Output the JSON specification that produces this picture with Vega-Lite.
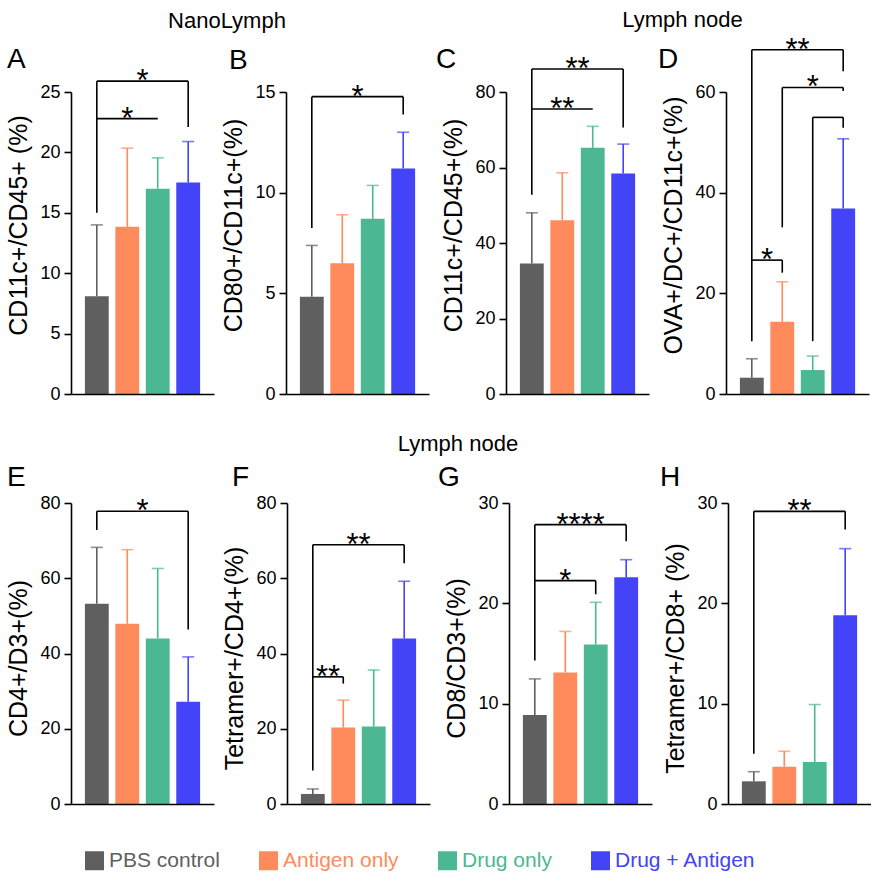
{
"$schema":"https://vega.github.io/schema/vega-lite/v6.json",
"background":"white",
"padding":{"left":6,"top":8,"right":0,"bottom":0},
"datasets":{
"bars":[
{"panel":"A","group":"PBS control","value":8.1,"upper":14.0},
{"panel":"A","group":"Antigen only","value":13.85,"upper":20.35},
{"panel":"A","group":"Drug only","value":17.0,"upper":19.55},
{"panel":"A","group":"Drug + Antigen","value":17.5,"upper":20.9},
{"panel":"B","group":"PBS control","value":4.83,"upper":7.38},
{"panel":"B","group":"Antigen only","value":6.49,"upper":8.9},
{"panel":"B","group":"Drug only","value":8.7,"upper":10.36},
{"panel":"B","group":"Drug + Antigen","value":11.2,"upper":13.0},
{"panel":"C","group":"PBS control","value":34.6,"upper":48.0},
{"panel":"C","group":"Antigen only","value":46.0,"upper":58.6},
{"panel":"C","group":"Drug only","value":65.2,"upper":70.9},
{"panel":"C","group":"Drug + Antigen","value":58.4,"upper":66.2},
{"panel":"D","group":"PBS control","value":3.24,"upper":7.0},
{"panel":"D","group":"Antigen only","value":14.35,"upper":22.3},
{"panel":"D","group":"Drug only","value":4.76,"upper":7.54},
{"panel":"D","group":"Drug + Antigen","value":36.86,"upper":50.7},
{"panel":"E","group":"PBS control","value":53.2,"upper":68.2},
{"panel":"E","group":"Antigen only","value":47.9,"upper":67.6},
{"panel":"E","group":"Drug only","value":44.0,"upper":62.6},
{"panel":"E","group":"Drug + Antigen","value":27.2,"upper":39.1},
{"panel":"F","group":"PBS control","value":2.67,"upper":4.0},
{"panel":"F","group":"Antigen only","value":20.3,"upper":27.6},
{"panel":"F","group":"Drug only","value":20.6,"upper":35.6},
{"panel":"F","group":"Drug + Antigen","value":44.0,"upper":59.2},
{"panel":"G","group":"PBS control","value":8.88,"upper":12.47},
{"panel":"G","group":"Antigen only","value":13.1,"upper":17.2},
{"panel":"G","group":"Drug only","value":15.9,"upper":20.1},
{"panel":"G","group":"Drug + Antigen","value":22.6,"upper":24.35},
{"panel":"H","group":"PBS control","value":2.26,"upper":3.22},
{"panel":"H","group":"Antigen only","value":3.72,"upper":5.25},
{"panel":"H","group":"Drug only","value":4.19,"upper":9.91},
{"panel":"H","group":"Drug + Antigen","value":18.8,"upper":25.45}
],
"links":[
{"panel":"A","group":"PBS control","group2":"PBS control","value":15.0,"value2":25.9},
{"panel":"A","group":"PBS control","group2":"Drug + Antigen","value":25.9,"value2":25.9},
{"panel":"A","group":"Drug + Antigen","group2":"Drug + Antigen","value":25.9,"value2":22.1},
{"panel":"A","group":"PBS control","group2":"Drug only","value":22.8,"value2":22.8},
{"panel":"B","group":"PBS control","group2":"PBS control","value":8.25,"value2":14.77},
{"panel":"B","group":"PBS control","group2":"Drug + Antigen","value":14.77,"value2":14.77},
{"panel":"B","group":"Drug + Antigen","group2":"Drug + Antigen","value":14.77,"value2":13.88},
{"panel":"C","group":"PBS control","group2":"PBS control","value":52.8,"value2":86.1},
{"panel":"C","group":"PBS control","group2":"Drug + Antigen","value":86.1,"value2":86.1},
{"panel":"C","group":"Drug + Antigen","group2":"Drug + Antigen","value":86.1,"value2":70.6},
{"panel":"C","group":"PBS control","group2":"Drug only","value":75.5,"value2":75.5},
{"panel":"D","group":"PBS control","group2":"PBS control","value":10.5,"value2":68.4},
{"panel":"D","group":"PBS control","group2":"Drug + Antigen","value":68.4,"value2":68.4},
{"panel":"D","group":"Drug + Antigen","group2":"Drug + Antigen","value":68.4,"value2":64.1},
{"panel":"D","group":"Antigen only","group2":"Antigen only","value":33.1,"value2":60.9},
{"panel":"D","group":"Antigen only","group2":"Drug + Antigen","value":60.9,"value2":60.9},
{"panel":"D","group":"Drug + Antigen","group2":"Drug + Antigen","value":60.9,"value2":60.2},
{"panel":"D","group":"Drug only","group2":"Drug only","value":10.5,"value2":54.96},
{"panel":"D","group":"Drug only","group2":"Drug + Antigen","value":54.96,"value2":54.96},
{"panel":"D","group":"Drug + Antigen","group2":"Drug + Antigen","value":54.96,"value2":52.9},
{"panel":"D","group":"PBS control","group2":"Antigen only","value":26.6,"value2":26.6},
{"panel":"D","group":"Antigen only","group2":"Antigen only","value":26.6,"value2":24.1},
{"panel":"E","group":"PBS control","group2":"PBS control","value":72.8,"value2":77.8},
{"panel":"E","group":"PBS control","group2":"Drug + Antigen","value":77.8,"value2":77.8},
{"panel":"E","group":"Drug + Antigen","group2":"Drug + Antigen","value":77.8,"value2":46.4},
{"panel":"F","group":"PBS control","group2":"PBS control","value":8.9,"value2":68.9},
{"panel":"F","group":"PBS control","group2":"Drug + Antigen","value":68.9,"value2":68.9},
{"panel":"F","group":"Drug + Antigen","group2":"Drug + Antigen","value":68.9,"value2":64.0},
{"panel":"F","group":"PBS control","group2":"Antigen only","value":33.8,"value2":33.8},
{"panel":"F","group":"Antigen only","group2":"Antigen only","value":33.8,"value2":32.0},
{"panel":"G","group":"PBS control","group2":"PBS control","value":14.3,"value2":27.84},
{"panel":"G","group":"PBS control","group2":"Drug + Antigen","value":27.84,"value2":27.84},
{"panel":"G","group":"Drug + Antigen","group2":"Drug + Antigen","value":27.84,"value2":26.2},
{"panel":"G","group":"PBS control","group2":"Drug only","value":22.26,"value2":22.26},
{"panel":"G","group":"Drug only","group2":"Drug only","value":22.26,"value2":20.9},
{"panel":"H","group":"PBS control","group2":"PBS control","value":5.0,"value2":29.17},
{"panel":"H","group":"PBS control","group2":"Drug + Antigen","value":29.17,"value2":29.17},
{"panel":"H","group":"Drug + Antigen","group2":"Drug + Antigen","value":29.17,"value2":27.35}
],
"stars":[
{"panel":"A","group":"Antigen only","between":true,"value":25.9,"label":"*"},
{"panel":"A","group":"Antigen only","between":false,"value":22.8,"label":"*"},
{"panel":"B","group":"Antigen only","between":true,"value":14.77,"label":"*"},
{"panel":"C","group":"Antigen only","between":true,"value":86.1,"label":"**"},
{"panel":"C","group":"Antigen only","between":false,"value":75.5,"label":"**"},
{"panel":"D","group":"Antigen only","between":true,"value":68.4,"label":"**"},
{"panel":"D","group":"Drug only","between":false,"value":60.9,"label":"*"},
{"panel":"D","group":"PBS control","between":true,"value":26.6,"label":"*"},
{"panel":"E","group":"Antigen only","between":true,"value":77.8,"label":"*"},
{"panel":"F","group":"Antigen only","between":true,"value":68.9,"label":"**"},
{"panel":"F","group":"PBS control","between":true,"value":33.8,"label":"**"},
{"panel":"G","group":"Antigen only","between":true,"value":27.84,"label":"****"},
{"panel":"G","group":"Antigen only","between":false,"value":22.26,"label":"*"},
{"panel":"H","group":"Antigen only","between":true,"value":29.17,"label":"**"}
]
},
"vconcat":[
{"spacing":7,"hconcat":[
 {"title":{"text":"NanoLymph","anchor":"middle","frame":"bounds","fontSize":22,"dx":9,"dy":-9},"spacing":7,"hconcat":[
  {"width":143,"height":302,"title":{"text":"A","dx":-64,"dy":12},
   "encoding":{"x":{"field":"group","type":"nominal","scale":{"domain":["PBS control","Antigen only","Drug only","Drug + Antigen"],"paddingInner":0.217,"paddingOuter":0.456},"axis":{"title":null,"labels":false,"ticks":false,"zindex":1}},
    "y":{"field":"value","type":"quantitative","scale":{"domain":[0,25],"nice":false},"axis":{"title":"CD11c+/CD45+ (%)","values":[0,5,10,15,20,25],"titleY":133}}},
   "layer":[
    {"data":{"name":"bars"},"transform":[{"filter":"datum.panel==='A'"}],"mark":"bar","encoding":{"color":{"field":"group","type":"nominal","scale":{"domain":["PBS control","Antigen only","Drug only","Drug + Antigen"],"range":["#5f5f5f","#ff8b5c","#4cb893","#4343f8"]},"legend":{"title":null,"orient":"none","legendX":13,"legendY":758,"direction":"horizontal","symbolType":"square","symbolSize":361,"symbolStrokeWidth":0,"symbolOpacity":1,"labelFontSize":21,"labelFont":"Liberation Sans","labelOffset":4,"columnPadding":38,"labelLimit":400,"encode":{"labels":{"update":{"fill":{"scale":"color","field":"value"}}}}}}}},
    {"data":{"name":"bars"},"transform":[{"filter":"datum.panel==='A'"}],"mark":{"type":"rule","strokeWidth":1.6},"encoding":{"y2":{"field":"upper"},"color":{"field":"group","type":"nominal","legend":null}}},
    {"data":{"name":"bars"},"transform":[{"filter":"datum.panel==='A'"}],"mark":{"type":"tick","orient":"horizontal","size":12,"thickness":1.6},"encoding":{"y":{"field":"upper","type":"quantitative","scale":{"domain":[0,25],"nice":false}},"color":{"field":"group","type":"nominal","legend":null}}},
    {"data":{"name":"links"},"transform":[{"filter":"datum.panel==='A'"}],"mark":{"type":"rule","strokeWidth":1.6,"color":"black"},"encoding":{"x2":{"field":"group2"},"y2":{"field":"value2"}}},
    {"data":{"name":"stars"},"transform":[{"filter":"datum.panel==='A' && datum.between"}],"mark":{"type":"text","fontSize":31,"baseline":"alphabetic","dy":10,"color":"black"},"encoding":{"x":{"field":"group","type":"nominal","bandPosition":1.1386,"scale":{"domain":["PBS control","Antigen only","Drug only","Drug + Antigen"],"paddingInner":0.217,"paddingOuter":0.456}},"text":{"field":"label"}}},
    {"data":{"name":"stars"},"transform":[{"filter":"datum.panel==='A' && !datum.between"}],"mark":{"type":"text","fontSize":31,"baseline":"alphabetic","dy":10,"color":"black"},"encoding":{"text":{"field":"label"}}}
   ]},
  {"width":143,"height":302,"title":{"text":"B","dx":-57,"dy":-3},
   "encoding":{"x":{"field":"group","type":"nominal","scale":{"domain":["PBS control","Antigen only","Drug only","Drug + Antigen"],"paddingInner":0.217,"paddingOuter":0.456},"axis":{"title":null,"labels":false,"ticks":false,"zindex":1}},
    "y":{"field":"value","type":"quantitative","scale":{"domain":[0,15],"nice":false},"axis":{"title":"CD80+/CD11c+(%)","values":[0,5,10,15],"titleY":133}}},
   "layer":[
    {"data":{"name":"bars"},"transform":[{"filter":"datum.panel==='B'"}],"mark":"bar","encoding":{"color":{"field":"group","type":"nominal","scale":{"domain":["PBS control","Antigen only","Drug only","Drug + Antigen"],"range":["#5f5f5f","#ff8b5c","#4cb893","#4343f8"]},"legend":{"title":null,"orient":"none","legendX":13,"legendY":758,"direction":"horizontal","symbolType":"square","symbolSize":361,"symbolStrokeWidth":0,"symbolOpacity":1,"labelFontSize":21,"labelFont":"Liberation Sans","labelOffset":4,"columnPadding":38,"labelLimit":400,"encode":{"labels":{"update":{"fill":{"scale":"color","field":"value"}}}}}}}},
    {"data":{"name":"bars"},"transform":[{"filter":"datum.panel==='B'"}],"mark":{"type":"rule","strokeWidth":1.6},"encoding":{"y2":{"field":"upper"},"color":{"field":"group","type":"nominal","legend":null}}},
    {"data":{"name":"bars"},"transform":[{"filter":"datum.panel==='B'"}],"mark":{"type":"tick","orient":"horizontal","size":12,"thickness":1.6},"encoding":{"y":{"field":"upper","type":"quantitative","scale":{"domain":[0,15],"nice":false}},"color":{"field":"group","type":"nominal","legend":null}}},
    {"data":{"name":"links"},"transform":[{"filter":"datum.panel==='B'"}],"mark":{"type":"rule","strokeWidth":1.6,"color":"black"},"encoding":{"x2":{"field":"group2"},"y2":{"field":"value2"}}},
    {"data":{"name":"stars"},"transform":[{"filter":"datum.panel==='B' && datum.between"}],"mark":{"type":"text","fontSize":31,"baseline":"alphabetic","dy":10,"color":"black"},"encoding":{"x":{"field":"group","type":"nominal","bandPosition":1.1386,"scale":{"domain":["PBS control","Antigen only","Drug only","Drug + Antigen"],"paddingInner":0.217,"paddingOuter":0.456}},"text":{"field":"label"}}}
   ]}
 ]},
 {"title":{"text":"Lymph node","anchor":"middle","frame":"bounds","fontSize":22,"dx":30,"dy":1},"spacing":9,"hconcat":[
  {"width":143,"height":302,"title":{"text":"C","dx":-70,"dy":24.5},
   "encoding":{"x":{"field":"group","type":"nominal","scale":{"domain":["PBS control","Antigen only","Drug only","Drug + Antigen"],"paddingInner":0.217,"paddingOuter":0.456},"axis":{"title":null,"labels":false,"ticks":false,"zindex":1}},
    "y":{"field":"value","type":"quantitative","scale":{"domain":[0,80],"nice":false},"axis":{"title":"CD11c+/CD45+(%)","values":[0,20,40,60,80],"titleY":133}}},
   "layer":[
    {"data":{"name":"bars"},"transform":[{"filter":"datum.panel==='C'"}],"mark":"bar","encoding":{"color":{"field":"group","type":"nominal","scale":{"domain":["PBS control","Antigen only","Drug only","Drug + Antigen"],"range":["#5f5f5f","#ff8b5c","#4cb893","#4343f8"]},"legend":{"title":null,"orient":"none","legendX":13,"legendY":758,"direction":"horizontal","symbolType":"square","symbolSize":361,"symbolStrokeWidth":0,"symbolOpacity":1,"labelFontSize":21,"labelFont":"Liberation Sans","labelOffset":4,"columnPadding":38,"labelLimit":400,"encode":{"labels":{"update":{"fill":{"scale":"color","field":"value"}}}}}}}},
    {"data":{"name":"bars"},"transform":[{"filter":"datum.panel==='C'"}],"mark":{"type":"rule","strokeWidth":1.6},"encoding":{"y2":{"field":"upper"},"color":{"field":"group","type":"nominal","legend":null}}},
    {"data":{"name":"bars"},"transform":[{"filter":"datum.panel==='C'"}],"mark":{"type":"tick","orient":"horizontal","size":12,"thickness":1.6},"encoding":{"y":{"field":"upper","type":"quantitative","scale":{"domain":[0,80],"nice":false}},"color":{"field":"group","type":"nominal","legend":null}}},
    {"data":{"name":"links"},"transform":[{"filter":"datum.panel==='C'"}],"mark":{"type":"rule","strokeWidth":1.6,"color":"black"},"encoding":{"x2":{"field":"group2"},"y2":{"field":"value2"}}},
    {"data":{"name":"stars"},"transform":[{"filter":"datum.panel==='C' && datum.between"}],"mark":{"type":"text","fontSize":31,"baseline":"alphabetic","dy":10,"color":"black"},"encoding":{"x":{"field":"group","type":"nominal","bandPosition":1.1386,"scale":{"domain":["PBS control","Antigen only","Drug only","Drug + Antigen"],"paddingInner":0.217,"paddingOuter":0.456}},"text":{"field":"label"}}},
    {"data":{"name":"stars"},"transform":[{"filter":"datum.panel==='C' && !datum.between"}],"mark":{"type":"text","fontSize":31,"baseline":"alphabetic","dy":10,"color":"black"},"encoding":{"text":{"field":"label"}}}
   ]},
  {"width":143,"height":302,"title":{"text":"D","dx":-68,"dy":43.7},
   "encoding":{"x":{"field":"group","type":"nominal","scale":{"domain":["PBS control","Antigen only","Drug only","Drug + Antigen"],"paddingInner":0.217,"paddingOuter":0.456},"axis":{"title":null,"labels":false,"ticks":false,"zindex":1}},
    "y":{"field":"value","type":"quantitative","scale":{"domain":[0,60],"nice":false},"axis":{"title":"OVA+/DC+/CD11c+(%)","values":[0,20,40,60],"titleY":133}}},
   "layer":[
    {"data":{"name":"bars"},"transform":[{"filter":"datum.panel==='D'"}],"mark":"bar","encoding":{"color":{"field":"group","type":"nominal","scale":{"domain":["PBS control","Antigen only","Drug only","Drug + Antigen"],"range":["#5f5f5f","#ff8b5c","#4cb893","#4343f8"]},"legend":{"title":null,"orient":"none","legendX":13,"legendY":758,"direction":"horizontal","symbolType":"square","symbolSize":361,"symbolStrokeWidth":0,"symbolOpacity":1,"labelFontSize":21,"labelFont":"Liberation Sans","labelOffset":4,"columnPadding":38,"labelLimit":400,"encode":{"labels":{"update":{"fill":{"scale":"color","field":"value"}}}}}}}},
    {"data":{"name":"bars"},"transform":[{"filter":"datum.panel==='D'"}],"mark":{"type":"rule","strokeWidth":1.6},"encoding":{"y2":{"field":"upper"},"color":{"field":"group","type":"nominal","legend":null}}},
    {"data":{"name":"bars"},"transform":[{"filter":"datum.panel==='D'"}],"mark":{"type":"tick","orient":"horizontal","size":12,"thickness":1.6},"encoding":{"y":{"field":"upper","type":"quantitative","scale":{"domain":[0,60],"nice":false}},"color":{"field":"group","type":"nominal","legend":null}}},
    {"data":{"name":"links"},"transform":[{"filter":"datum.panel==='D'"}],"mark":{"type":"rule","strokeWidth":1.6,"color":"black"},"encoding":{"x2":{"field":"group2"},"y2":{"field":"value2"}}},
    {"data":{"name":"stars"},"transform":[{"filter":"datum.panel==='D' && datum.between"}],"mark":{"type":"text","fontSize":31,"baseline":"alphabetic","dy":10,"color":"black"},"encoding":{"x":{"field":"group","type":"nominal","bandPosition":1.1386,"scale":{"domain":["PBS control","Antigen only","Drug only","Drug + Antigen"],"paddingInner":0.217,"paddingOuter":0.456}},"text":{"field":"label"}}},
    {"data":{"name":"stars"},"transform":[{"filter":"datum.panel==='D' && !datum.between"}],"mark":{"type":"text","fontSize":31,"baseline":"alphabetic","dy":10,"color":"black"},"encoding":{"text":{"field":"label"}}}
   ]}
 ]}
]},
{"title":{"text":"Lymph node","anchor":"middle","frame":"bounds","fontSize":22,"dx":19,"dy":-4.5},"spacing":8,"hconcat":[
  {"width":143,"height":301,"title":{"text":"E","dx":-64,"dy":2},
   "encoding":{"x":{"field":"group","type":"nominal","scale":{"domain":["PBS control","Antigen only","Drug only","Drug + Antigen"],"paddingInner":0.217,"paddingOuter":0.456},"axis":{"title":null,"labels":false,"ticks":false,"zindex":1}},
    "y":{"field":"value","type":"quantitative","scale":{"domain":[0,80],"nice":false},"axis":{"title":"CD4+/D3+(%)","values":[0,20,40,60,80],"titleY":155}}},
   "layer":[
    {"data":{"name":"bars"},"transform":[{"filter":"datum.panel==='E'"}],"mark":"bar","encoding":{"color":{"field":"group","type":"nominal","scale":{"domain":["PBS control","Antigen only","Drug only","Drug + Antigen"],"range":["#5f5f5f","#ff8b5c","#4cb893","#4343f8"]},"legend":{"title":null,"orient":"none","legendX":13,"legendY":758,"direction":"horizontal","symbolType":"square","symbolSize":361,"symbolStrokeWidth":0,"symbolOpacity":1,"labelFontSize":21,"labelFont":"Liberation Sans","labelOffset":4,"columnPadding":38,"labelLimit":400,"encode":{"labels":{"update":{"fill":{"scale":"color","field":"value"}}}}}}}},
    {"data":{"name":"bars"},"transform":[{"filter":"datum.panel==='E'"}],"mark":{"type":"rule","strokeWidth":1.6},"encoding":{"y2":{"field":"upper"},"color":{"field":"group","type":"nominal","legend":null}}},
    {"data":{"name":"bars"},"transform":[{"filter":"datum.panel==='E'"}],"mark":{"type":"tick","orient":"horizontal","size":12,"thickness":1.6},"encoding":{"y":{"field":"upper","type":"quantitative","scale":{"domain":[0,80],"nice":false}},"color":{"field":"group","type":"nominal","legend":null}}},
    {"data":{"name":"links"},"transform":[{"filter":"datum.panel==='E'"}],"mark":{"type":"rule","strokeWidth":1.6,"color":"black"},"encoding":{"x2":{"field":"group2"},"y2":{"field":"value2"}}},
    {"data":{"name":"stars"},"transform":[{"filter":"datum.panel==='E' && datum.between"}],"mark":{"type":"text","fontSize":31,"baseline":"alphabetic","dy":10,"color":"black"},"encoding":{"x":{"field":"group","type":"nominal","bandPosition":1.1386,"scale":{"domain":["PBS control","Antigen only","Drug only","Drug + Antigen"],"paddingInner":0.217,"paddingOuter":0.456}},"text":{"field":"label"}}}
   ]},
  {"width":143,"height":301,"title":{"text":"F","dx":-55,"dy":2},
   "encoding":{"x":{"field":"group","type":"nominal","scale":{"domain":["PBS control","Antigen only","Drug only","Drug + Antigen"],"paddingInner":0.217,"paddingOuter":0.456},"axis":{"title":null,"labels":false,"ticks":false,"zindex":1}},
    "y":{"field":"value","type":"quantitative","scale":{"domain":[0,80],"nice":false},"axis":{"title":"Tetramer+/CD4+(%)","values":[0,20,40,60,80],"titleY":155}}},
   "layer":[
    {"data":{"name":"bars"},"transform":[{"filter":"datum.panel==='F'"}],"mark":"bar","encoding":{"color":{"field":"group","type":"nominal","scale":{"domain":["PBS control","Antigen only","Drug only","Drug + Antigen"],"range":["#5f5f5f","#ff8b5c","#4cb893","#4343f8"]},"legend":{"title":null,"orient":"none","legendX":13,"legendY":758,"direction":"horizontal","symbolType":"square","symbolSize":361,"symbolStrokeWidth":0,"symbolOpacity":1,"labelFontSize":21,"labelFont":"Liberation Sans","labelOffset":4,"columnPadding":38,"labelLimit":400,"encode":{"labels":{"update":{"fill":{"scale":"color","field":"value"}}}}}}}},
    {"data":{"name":"bars"},"transform":[{"filter":"datum.panel==='F'"}],"mark":{"type":"rule","strokeWidth":1.6},"encoding":{"y2":{"field":"upper"},"color":{"field":"group","type":"nominal","legend":null}}},
    {"data":{"name":"bars"},"transform":[{"filter":"datum.panel==='F'"}],"mark":{"type":"tick","orient":"horizontal","size":12,"thickness":1.6},"encoding":{"y":{"field":"upper","type":"quantitative","scale":{"domain":[0,80],"nice":false}},"color":{"field":"group","type":"nominal","legend":null}}},
    {"data":{"name":"links"},"transform":[{"filter":"datum.panel==='F'"}],"mark":{"type":"rule","strokeWidth":1.6,"color":"black"},"encoding":{"x2":{"field":"group2"},"y2":{"field":"value2"}}},
    {"data":{"name":"stars"},"transform":[{"filter":"datum.panel==='F' && datum.between"}],"mark":{"type":"text","fontSize":31,"baseline":"alphabetic","dy":10,"color":"black"},"encoding":{"x":{"field":"group","type":"nominal","bandPosition":1.1386,"scale":{"domain":["PBS control","Antigen only","Drug only","Drug + Antigen"],"paddingInner":0.217,"paddingOuter":0.456}},"text":{"field":"label"}}}
   ]},
  {"width":143,"height":301,"title":{"text":"G","dx":-71,"dy":2},
   "encoding":{"x":{"field":"group","type":"nominal","scale":{"domain":["PBS control","Antigen only","Drug only","Drug + Antigen"],"paddingInner":0.217,"paddingOuter":0.456},"axis":{"title":null,"labels":false,"ticks":false,"zindex":1}},
    "y":{"field":"value","type":"quantitative","scale":{"domain":[0,30],"nice":false},"axis":{"title":"CD8/CD3+(%)","values":[0,10,20,30],"titleY":155}}},
   "layer":[
    {"data":{"name":"bars"},"transform":[{"filter":"datum.panel==='G'"}],"mark":"bar","encoding":{"color":{"field":"group","type":"nominal","scale":{"domain":["PBS control","Antigen only","Drug only","Drug + Antigen"],"range":["#5f5f5f","#ff8b5c","#4cb893","#4343f8"]},"legend":{"title":null,"orient":"none","legendX":13,"legendY":758,"direction":"horizontal","symbolType":"square","symbolSize":361,"symbolStrokeWidth":0,"symbolOpacity":1,"labelFontSize":21,"labelFont":"Liberation Sans","labelOffset":4,"columnPadding":38,"labelLimit":400,"encode":{"labels":{"update":{"fill":{"scale":"color","field":"value"}}}}}}}},
    {"data":{"name":"bars"},"transform":[{"filter":"datum.panel==='G'"}],"mark":{"type":"rule","strokeWidth":1.6},"encoding":{"y2":{"field":"upper"},"color":{"field":"group","type":"nominal","legend":null}}},
    {"data":{"name":"bars"},"transform":[{"filter":"datum.panel==='G'"}],"mark":{"type":"tick","orient":"horizontal","size":12,"thickness":1.6},"encoding":{"y":{"field":"upper","type":"quantitative","scale":{"domain":[0,30],"nice":false}},"color":{"field":"group","type":"nominal","legend":null}}},
    {"data":{"name":"links"},"transform":[{"filter":"datum.panel==='G'"}],"mark":{"type":"rule","strokeWidth":1.6,"color":"black"},"encoding":{"x2":{"field":"group2"},"y2":{"field":"value2"}}},
    {"data":{"name":"stars"},"transform":[{"filter":"datum.panel==='G' && datum.between"}],"mark":{"type":"text","fontSize":31,"baseline":"alphabetic","dy":10,"color":"black"},"encoding":{"x":{"field":"group","type":"nominal","bandPosition":1.1386,"scale":{"domain":["PBS control","Antigen only","Drug only","Drug + Antigen"],"paddingInner":0.217,"paddingOuter":0.456}},"text":{"field":"label"}}},
    {"data":{"name":"stars"},"transform":[{"filter":"datum.panel==='G' && !datum.between"}],"mark":{"type":"text","fontSize":31,"baseline":"alphabetic","dy":10,"color":"black"},"encoding":{"text":{"field":"label"}}}
   ]},
  {"width":143,"height":301,"title":{"text":"H","dx":-68,"dy":2},
   "encoding":{"x":{"field":"group","type":"nominal","scale":{"domain":["PBS control","Antigen only","Drug only","Drug + Antigen"],"paddingInner":0.217,"paddingOuter":0.456},"axis":{"title":null,"labels":false,"ticks":false,"zindex":1}},
    "y":{"field":"value","type":"quantitative","scale":{"domain":[0,30],"nice":false},"axis":{"title":"Tetramer+/CD8+ (%)","values":[0,10,20,30],"titleY":155}}},
   "layer":[
    {"data":{"name":"bars"},"transform":[{"filter":"datum.panel==='H'"}],"mark":"bar","encoding":{"color":{"field":"group","type":"nominal","scale":{"domain":["PBS control","Antigen only","Drug only","Drug + Antigen"],"range":["#5f5f5f","#ff8b5c","#4cb893","#4343f8"]},"legend":{"title":null,"orient":"none","legendX":13,"legendY":758,"direction":"horizontal","symbolType":"square","symbolSize":361,"symbolStrokeWidth":0,"symbolOpacity":1,"labelFontSize":21,"labelFont":"Liberation Sans","labelOffset":4,"columnPadding":38,"labelLimit":400,"encode":{"labels":{"update":{"fill":{"scale":"color","field":"value"}}}}}}}},
    {"data":{"name":"bars"},"transform":[{"filter":"datum.panel==='H'"}],"mark":{"type":"rule","strokeWidth":1.6},"encoding":{"y2":{"field":"upper"},"color":{"field":"group","type":"nominal","legend":null}}},
    {"data":{"name":"bars"},"transform":[{"filter":"datum.panel==='H'"}],"mark":{"type":"tick","orient":"horizontal","size":12,"thickness":1.6},"encoding":{"y":{"field":"upper","type":"quantitative","scale":{"domain":[0,30],"nice":false}},"color":{"field":"group","type":"nominal","legend":null}}},
    {"data":{"name":"links"},"transform":[{"filter":"datum.panel==='H'"}],"mark":{"type":"rule","strokeWidth":1.6,"color":"black"},"encoding":{"x2":{"field":"group2"},"y2":{"field":"value2"}}},
    {"data":{"name":"stars"},"transform":[{"filter":"datum.panel==='H' && datum.between"}],"mark":{"type":"text","fontSize":31,"baseline":"alphabetic","dy":10,"color":"black"},"encoding":{"x":{"field":"group","type":"nominal","bandPosition":1.1386,"scale":{"domain":["PBS control","Antigen only","Drug only","Drug + Antigen"],"paddingInner":0.217,"paddingOuter":0.456}},"text":{"field":"label"}}}
   ]}
]}
],
"spacing":29,
"config":{
 "view":{"stroke":null},
 "font":"Liberation Sans",
 "axis":{"domainColor":"black","domainWidth":1.6,"tickColor":"black","tickWidth":1.6,"tickSize":7,"labelColor":"black","labelFontSize":18,"labelFont":"Liberation Sans","labelPadding":4,"titleFont":"Liberation Sans","titleFontSize":25,"titleFontWeight":"normal","titleColor":"black","titlePadding":8,"grid":false},
 "title":{"font":"Liberation Sans","fontSize":28,"fontWeight":"normal","anchor":"start","frame":"group","baseline":"alphabetic","offset":0,"color":"black"},
 "text":{"font":"Liberation Sans"}
}
}
